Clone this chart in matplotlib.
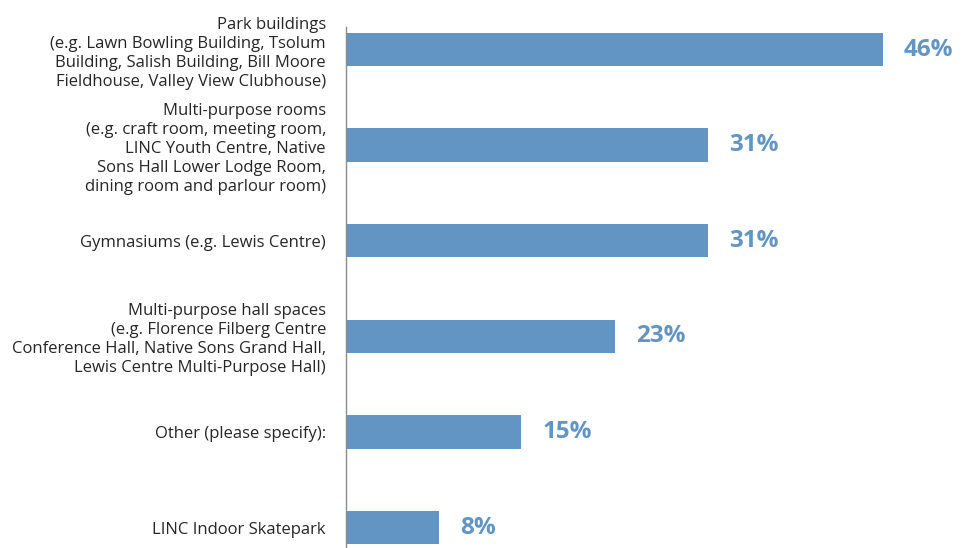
import matplotlib.pyplot as plt

plt.rcParams['font.family'] = ['Open Sans', 'DejaVu Sans']

categories = [
    "Park buildings\n(e.g. Lawn Bowling Building, Tsolum\nBuilding, Salish Building, Bill Moore\nFieldhouse, Valley View Clubhouse)",
    "Multi-purpose rooms\n(e.g. craft room, meeting room,\nLINC Youth Centre, Native\nSons Hall Lower Lodge Room,\ndining room and parlour room)",
    "Gymnasiums (e.g. Lewis Centre)",
    "Multi-purpose hall spaces\n(e.g. Florence Filberg Centre\nConference Hall, Native Sons Grand Hall,\nLewis Centre Multi-Purpose Hall)",
    "Other (please specify):",
    "LINC Indoor Skatepark",
]
values = [46, 31, 31, 23, 15, 8]

bar_color = "#6295c3"
text_color = "#262626"

fig = plt.figure(figsize=(9.73, 5.48), dpi=100)
ax = fig.add_axes([0.3556, 0.0, 1 - 0.3556, 1 - 27 / 548])

pos = list(range(len(values)))
ax.barh(pos, values, height=0.35, color=bar_color)

for p, v in zip(pos, values):
    ax.text(v + 1.8, p, f"{v}%", va="center", ha="left",
            fontsize=17.5, fontweight="bold", color=bar_color)

ax.set_yticks(pos)
ax.set_yticklabels(categories, fontsize=12, color=text_color, ha="right",
                   linespacing=1.25)
ax.tick_params(axis="y", length=0, pad=14.4)
ax.set_xticks([])
ax.set_xlim(0, 53.7)
ax.set_ylim(5.214, -0.236)

for side in ["top", "right", "bottom"]:
    ax.spines[side].set_visible(False)
ax.spines["left"].set_color("#8c8c8c")
ax.spines["left"].set_linewidth(1)

fig.savefig("out.png", dpi=100)
